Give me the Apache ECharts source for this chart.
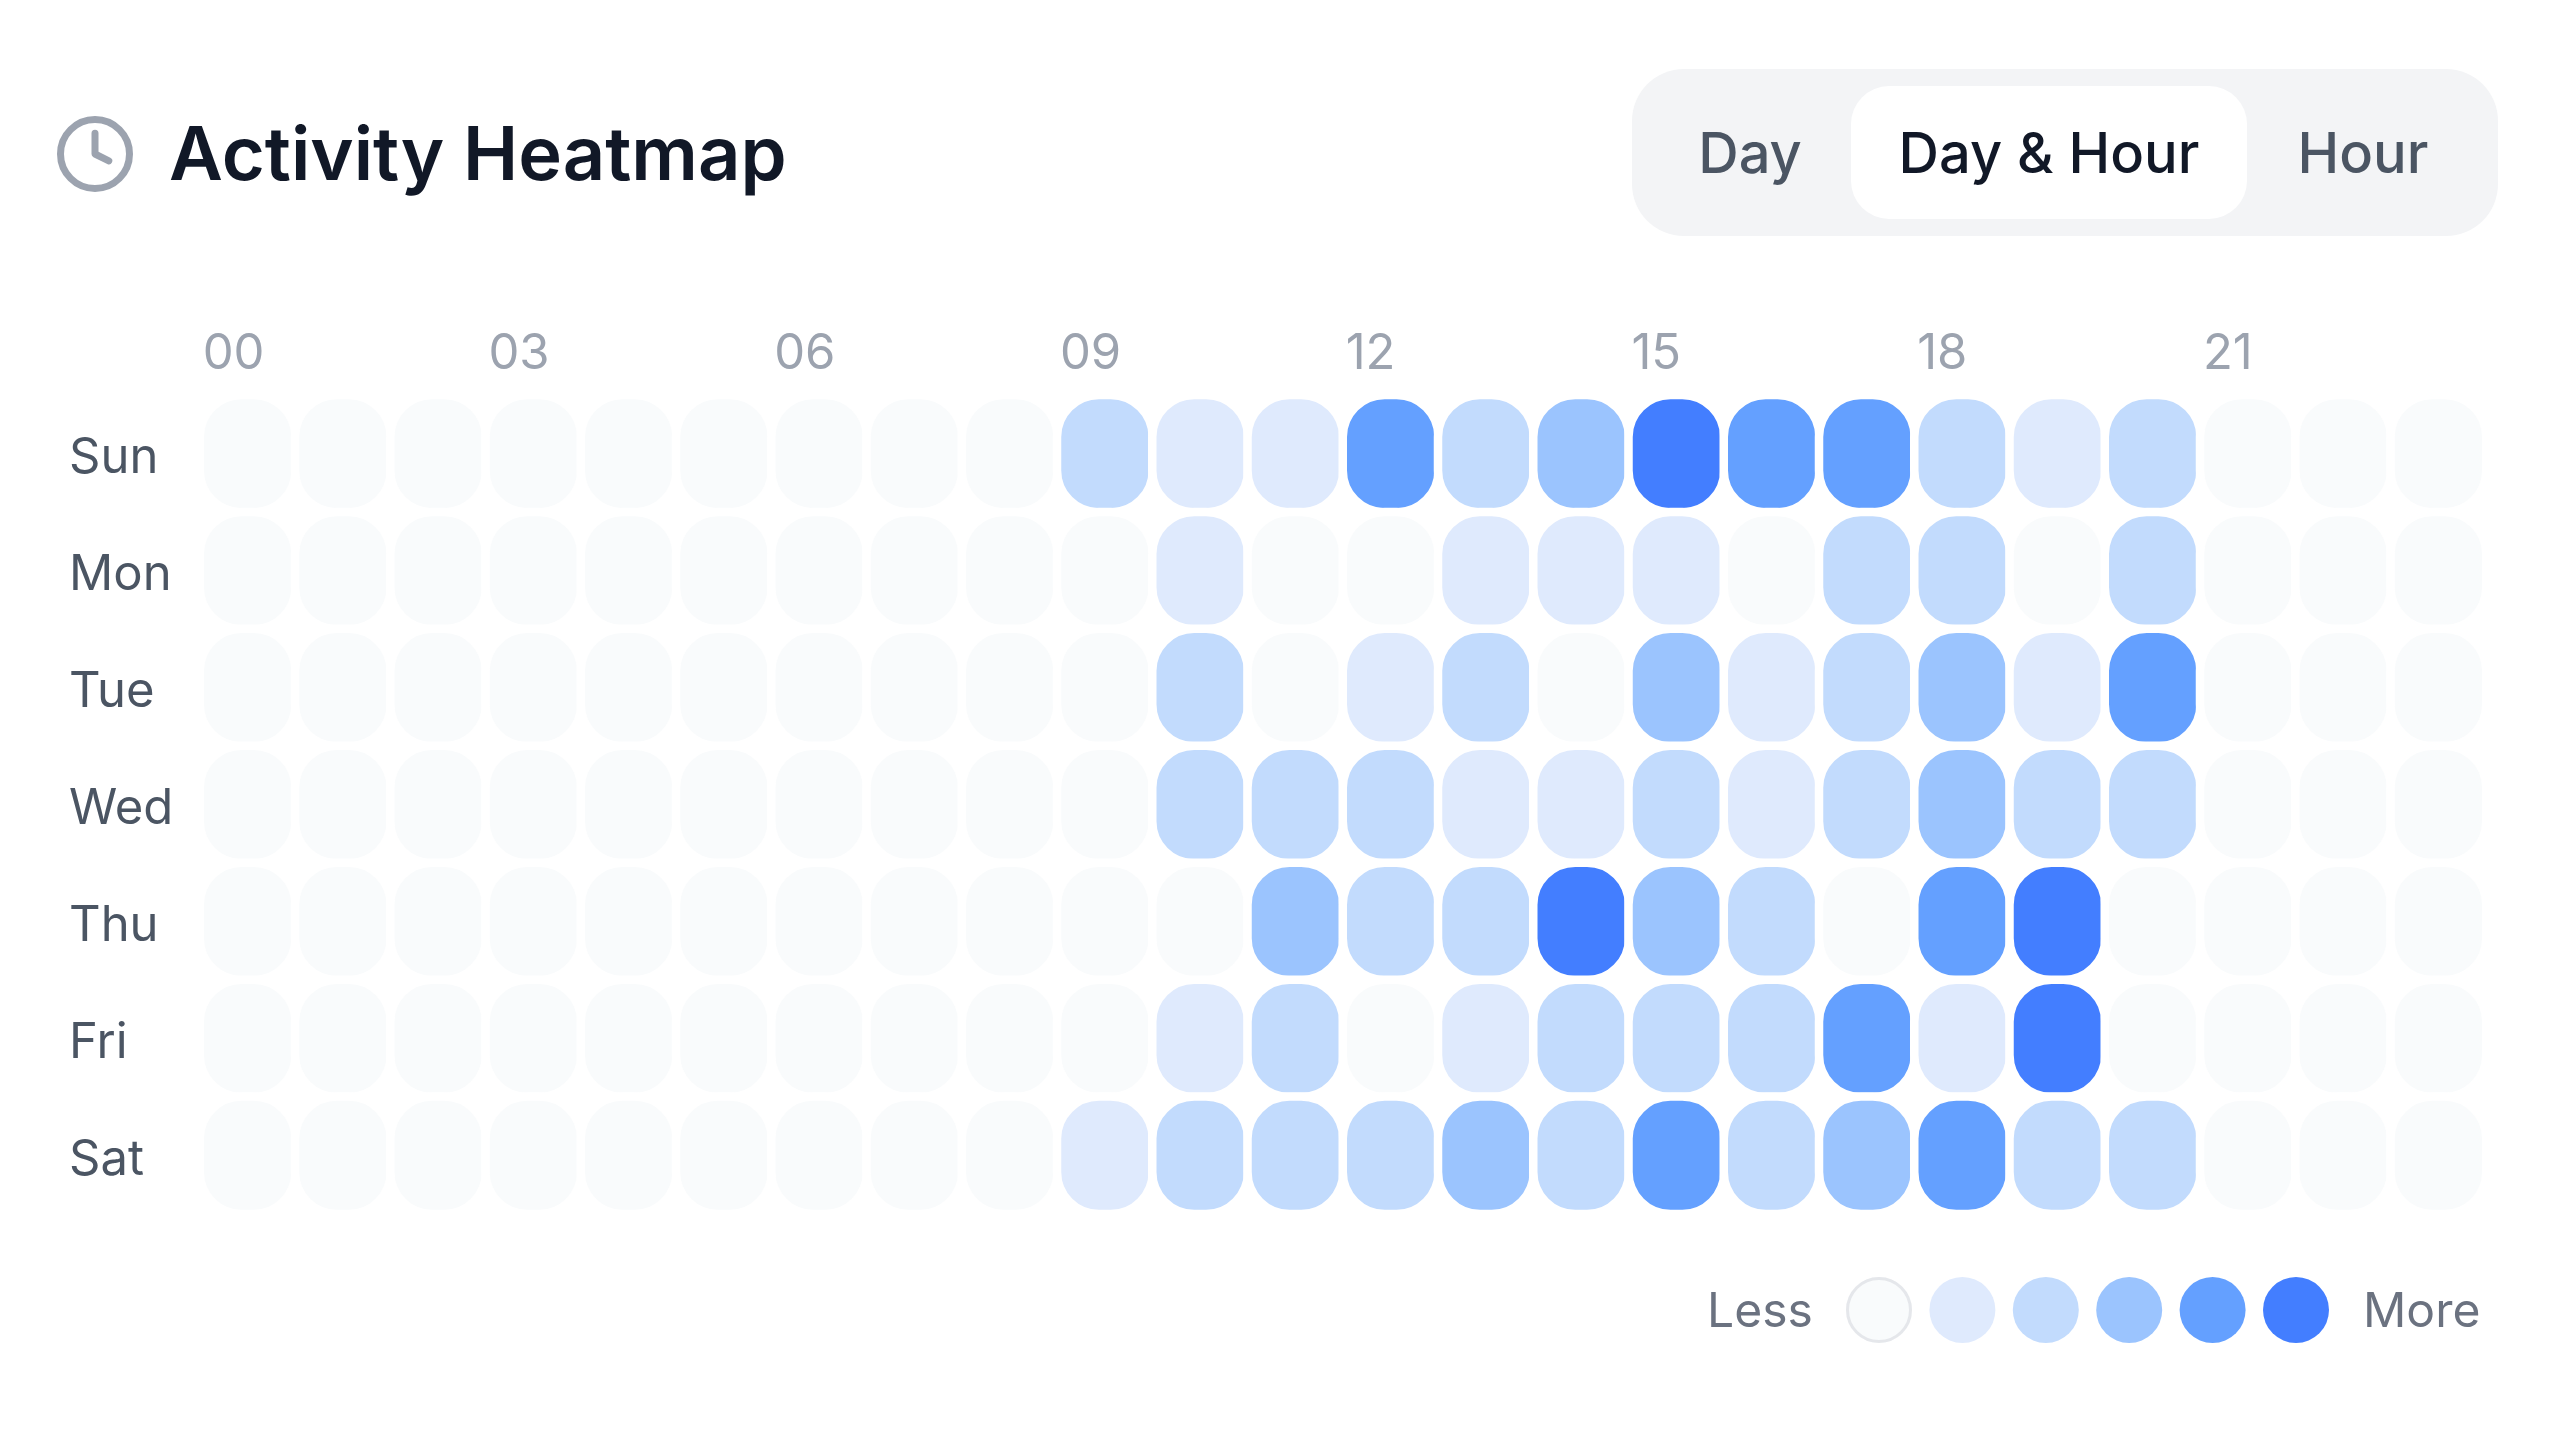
<!DOCTYPE html>
<html><head><meta charset="utf-8">
<style>html,body{margin:0;padding:0;background:#fff}#c{width:2568px;height:1440px}</style>
<script src="https://cdn.jsdelivr.net/npm/echarts@6/dist/echarts.min.js"></script>
</head><body><div id="c"></div>
<script>
const hours = ['00','01','02','03','04','05','06','07','08','09','10','11','12','13','14','15','16','17','18','19','20','21','22','23'];
const days = ['Sun','Mon','Tue','Wed','Thu','Fri','Sat'];
const sun = [0,0,0,0,0,0,0,0,0,2,1,1,4,2,3,5,4,4,2,1,2,0,0,0];
const mon = [0,0,0,0,0,0,0,0,0,0,1,0,0,1,1,1,0,2,2,0,2,0,0,0];
const tue = [0,0,0,0,0,0,0,0,0,0,2,0,1,2,0,3,1,2,3,1,4,0,0,0];
const wed = [0,0,0,0,0,0,0,0,0,0,2,2,2,1,1,2,1,2,3,2,2,0,0,0];
const thu = [0,0,0,0,0,0,0,0,0,0,0,3,2,2,5,3,2,0,4,5,0,0,0,0];
const fri = [0,0,0,0,0,0,0,0,0,0,1,2,0,1,2,2,2,4,1,5,0,0,0,0];
const sat = [0,0,0,0,0,0,0,0,0,1,2,2,2,3,2,4,2,3,4,2,2,0,0,0];
const levels = [sun,mon,tue,wed,thu,fri,sat];
const palette = ['#f9fbfc','#dfeafd','#c2dbfd','#9bc4fe','#64a0ff','#437eff'];
const modes = ['Day','Day & Hour','Hour'];
const legendEnds = ['Less','More'];
const FONT = 'Inter';

const data = [];
levels.forEach((row,d)=>row.forEach((v,h)=>data.push([h,d,v])));

const chart = echarts.init(document.getElementById('c'),null,{renderer:'canvas',width:2568,height:1440});
const clockStroke = {stroke:'#9ca3af',lineWidth:7,fill:null,lineCap:'round',lineJoin:'round'};
chart.setOption({
  animation:false,
  backgroundColor:'#ffffff',
  textStyle:{fontFamily:FONT},
  title:{text:'Activity Heatmap',left:169,top:113,padding:0,
    textStyle:{fontFamily:FONT,fontSize:74,fontWeight:600,color:'#111827',lineHeight:90}},
  grid:{left:200,top:395.25,width:2286,height:818.5,containLabel:false},
  xAxis:{type:'category',position:'top',data:hours,
    axisLine:{show:false},axisTick:{show:false},splitLine:{show:false},
    axisLabel:{interval:2,hideOverlap:false,align:'left',margin:16,fontFamily:FONT,fontSize:49,color:'#9ca3af',padding:[0,0,0,-45]}},
  yAxis:{type:'category',inverse:true,data:days,
    axisLine:{show:false},axisTick:{show:false},splitLine:{show:false},
    axisLabel:{interval:0,align:'left',verticalAlign:'top',margin:131,fontFamily:FONT,fontSize:49,color:'#4b5563',padding:[-20,0,0,0]}},
  visualMap:{type:'piecewise',orient:'horizontal',left:1846,top:1277,dimension:2,seriesIndex:0,
    pieces:palette.map((c,i)=>({value:i,color:c})),
    itemSymbol:'circle',itemWidth:66,itemHeight:66,itemGap:17.4,showLabel:false,selectedMode:false,padding:0},
  series:[{type:'heatmap',data:data,progressive:0,
    itemStyle:{borderColor:'#ffffff',borderWidth:8.5,borderRadius:42},
    emphasis:{disabled:true}}],
  graphic:[
    {type:'circle',shape:{cx:95,cy:154,r:34.5},style:clockStroke,silent:true},
    {type:'polyline',shape:{points:[[95,133.3],[95,154],[108.8,160.9]]},style:clockStroke,silent:true},
    {type:'rect',shape:{x:1632,y:69,width:866,height:167,r:52},style:{fill:'#f3f4f6'},silent:true},
    {type:'rect',shape:{x:1851,y:86,width:396,height:133,r:38},style:{fill:'#ffffff'},silent:true},
    {type:'text',x:1750,y:156,silent:true,style:{text:modes[0],fontFamily:FONT,fontSize:56,fontWeight:500,fill:'#4b5563',textAlign:'center',textVerticalAlign:'middle'}},
    {type:'text',x:2049,y:156,silent:true,style:{text:modes[1],fontFamily:FONT,fontSize:56,fontWeight:500,fill:'#111827',textAlign:'center',textVerticalAlign:'middle'}},
    {type:'text',x:2363,y:156,silent:true,style:{text:modes[2],fontFamily:FONT,fontSize:56,fontWeight:500,fill:'#4b5563',textAlign:'center',textVerticalAlign:'middle'}},
    {type:'text',x:1707,y:1313,silent:true,style:{text:legendEnds[0],fontFamily:FONT,fontSize:48,fill:'#6b7280',textAlign:'left',textVerticalAlign:'middle'}},
    {type:'text',x:2363,y:1313,silent:true,style:{text:legendEnds[1],fontFamily:FONT,fontSize:48,fill:'#6b7280',textAlign:'left',textVerticalAlign:'middle'}},
    {type:'circle',z:100,shape:{cx:1879,cy:1310,r:31.5},style:{fill:null,stroke:'#e5e7eb',lineWidth:3},silent:true}
  ]
});
</script></body></html>
